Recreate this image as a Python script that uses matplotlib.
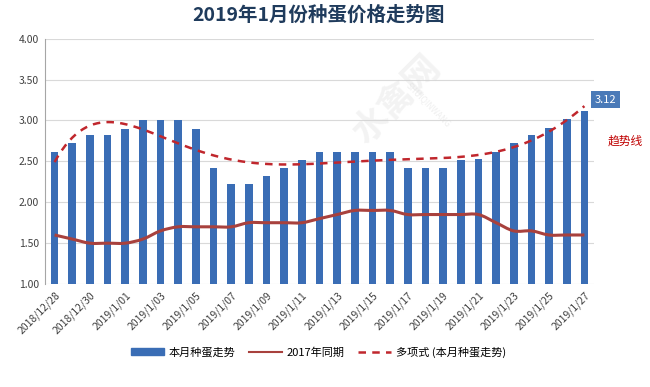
import numpy as np
import matplotlib
matplotlib.use("Agg")
import matplotlib.pyplot as plt
from matplotlib.path import Path
from matplotlib.patches import PathPatch, Patch
from matplotlib.lines import Line2D

plt.rcParams['font.family'] = ['Noto Sans CJK SC', 'DejaVu Sans']

dates = ["2018/12/28", "2018/12/29", "2018/12/30", "2018/12/31",
         "2019/1/01", "2019/1/02", "2019/1/03", "2019/1/04", "2019/1/05",
         "2019/1/06", "2019/1/07", "2019/1/08", "2019/1/09", "2019/1/10",
         "2019/1/11", "2019/1/12", "2019/1/13", "2019/1/14", "2019/1/15",
         "2019/1/16", "2019/1/17", "2019/1/18", "2019/1/19", "2019/1/20",
         "2019/1/21", "2019/1/22", "2019/1/23", "2019/1/24", "2019/1/25",
         "2019/1/26", "2019/1/27"]
price_2019 = [2.62, 2.72, 2.82, 2.82, 2.89, 3.00, 3.00, 3.00, 2.89, 2.42,
              2.22, 2.22, 2.32, 2.42, 2.52, 2.62, 2.62, 2.62, 2.62, 2.62,
              2.42, 2.42, 2.42, 2.52, 2.53, 2.62, 2.72, 2.82, 2.91, 3.02,
              3.12]
price_2017 = [1.60, 1.55, 1.50, 1.50, 1.50, 1.55, 1.65, 1.70, 1.70, 1.70,
              1.70, 1.75, 1.75, 1.75, 1.75, 1.80, 1.85, 1.90, 1.90, 1.90,
              1.85, 1.85, 1.85, 1.85, 1.85, 1.75, 1.65, 1.65, 1.60, 1.60,
              1.60]

x = np.arange(len(dates))
bar_color = "#3a6db5"
line_color = "#a8413d"
trend_color = "#c0272d"

fig = plt.figure(figsize=(6.5, 3.87), dpi=100)
ax = fig.add_axes([0.069, 0.266, 0.845, 0.634])

ax.bar(x, price_2019, width=0.43, color=bar_color, zorder=2)

# smoothed line (Excel style) through the 2017 values
pts = np.column_stack([x, price_2017]).astype(float)
verts = [tuple(pts[0])]
codes = [Path.MOVETO]
for i in range(len(pts) - 1):
    p0 = pts[max(i - 1, 0)]
    p1 = pts[i]
    p2 = pts[i + 1]
    p3 = pts[min(i + 2, len(pts) - 1)]
    c1 = p1 + (p2 - p0) / 6
    c2 = p2 - (p3 - p1) / 6
    verts += [tuple(c1), tuple(c2), tuple(p2)]
    codes += [Path.CURVE4] * 3
ax.add_patch(PathPatch(Path(verts, codes), fill=False, edgecolor=line_color,
                       lw=2.2, zorder=3))

# polynomial trendline of the bars
xn = x + 1
coef = np.polyfit(xn, price_2019, 6)
xs = np.linspace(1, len(dates), 300)
ax.plot(xs - 1, np.polyval(coef, xs), ls=(0, (3, 2.5)), color=trend_color,
        lw=1.8, zorder=4)

ax.set_xlim(-0.55, len(dates) - 0.45)
ax.set_ylim(1.0, 4.0)
ax.set_yticks(np.arange(1.0, 4.01, 0.5))
ax.set_yticklabels([f"{v:.2f}" for v in np.arange(1.0, 4.01, 0.5)],
                   fontsize=7.5, color="#404040")
ax.set_xticks(x[::2])
ax.set_xticklabels(dates[::2], rotation=45, ha="right", rotation_mode="anchor",
                   fontsize=7.5, color="#404040")
ax.tick_params(length=0, pad=4)
ax.grid(axis="y", color="#d9d9d9", lw=0.8, zorder=0)
for s in ["top", "right", "bottom"]:
    ax.spines[s].set_visible(False)
ax.spines["left"].set_color("#a6a6a6")

# value label on last bar
ax.annotate(f"{price_2019[-1]:.2f}", (x[-1], price_2019[-1]),
            xytext=(15, 8), textcoords="offset points", ha="center",
            va="center", fontsize=8, color="white",
            bbox=dict(boxstyle="square,pad=0.35", fc="#4a7ab8", ec="none"))
fig.text(0.935, 0.635, "趋势线", fontsize=8.5, color="#c00000", ha="left",
         va="center")

# faint watermark
fig.text(0.61, 0.74, "水禽网", fontsize=26, color="#d0d0d0", alpha=0.25,
         rotation=45, ha="center", va="center", fontweight="bold")
fig.text(0.66, 0.73, "SHUIQINWANG", fontsize=6, color="#d0d0d0", alpha=0.35,
         rotation=-45, ha="center", va="center")

fig.suptitle("2019年1月份种蛋价格走势图", x=0.49, y=0.985, fontsize=14,
             fontweight="bold", color="#1f3b5c")

handles = [Patch(color=bar_color),
           Line2D([], [], color=line_color, lw=1.5),
           Line2D([], [], color=trend_color, lw=1.8, ls=(0, (3, 2.5)))]
labels = ["本月种蛋走势", "2017年同期", "多项式 (本月种蛋走势)"]
fig.legend(handles, labels, loc="center", bbox_to_anchor=(0.49, 0.09),
           ncol=3, frameon=False, fontsize=8, handlelength=3,
           handleheight=0.6, columnspacing=1.2, handletextpad=0.4)

fig.savefig("out.png", dpi=100)
